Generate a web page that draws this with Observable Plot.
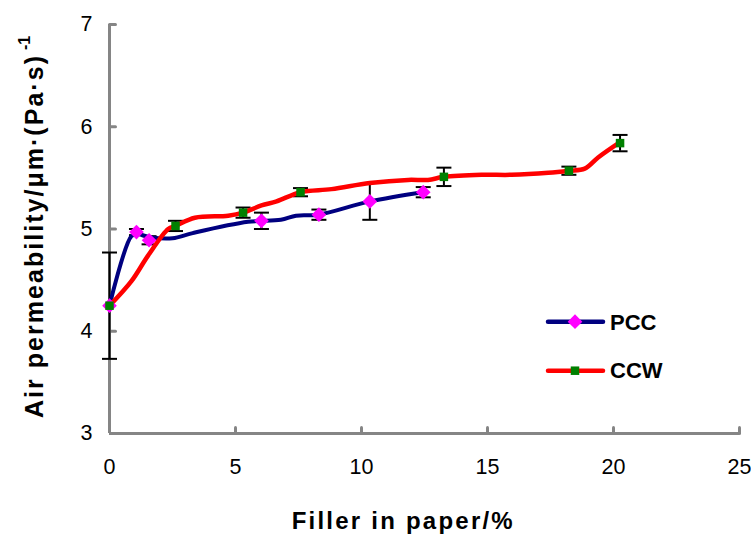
<!DOCTYPE html>
<html><head><meta charset="utf-8">
<script src="https://cdn.jsdelivr.net/npm/d3@7"></script>
<script src="https://cdn.jsdelivr.net/npm/@observablehq/plot@0.6"></script>
<style>body{margin:0;background:#fff;} svg{display:block;}</style>
</head><body><div id="chart"></div>
<script>
// Marker data (filler %, air permeability, error)
const pccX = [0, 1.07, 1.57, 6.03, 8.31, 10.33, 12.45];
const pccY = [4.25, 4.97, 4.89, 5.08, 5.14, 5.27, 5.36];
const pccErr = [0.52, 0.03, 0.04, 0.08, 0.05, 0.18, 0.05];
const ccwX = [0, 2.62, 5.30, 7.58, 13.27, 18.23, 20.26];
const ccwY = [4.25, 5.03, 5.16, 5.36, 5.51, 5.57, 5.84];
const ccwErr = [0, 0.05, 0.05, 0.04, 0.09, 0.04, 0.08];
// Smoothed line traces
const pccLineX = [0, 0.87, 1.1, 1.6, 2.5, 3.3, 5.5, 6.8, 7.4, 8.3, 10.33, 12.45];
const pccLineY = [4.25, 4.93, 4.95, 4.92, 4.91, 4.96, 5.07, 5.09, 5.13, 5.14, 5.27, 5.36];
const ccwLineX = [0, 0.87, 1.53, 2.33, 2.62, 3.39, 4.71, 5.3, 6.03, 6.63, 7.58, 8.81, 10.33, 11.85, 12.64, 13.27, 14.76, 15.95, 17.41, 18.23, 18.86, 19.39, 20.26];
const ccwLineY = [4.25, 4.49, 4.74, 5.00, 5.03, 5.11, 5.13, 5.16, 5.23, 5.27, 5.36, 5.39, 5.45, 5.48, 5.48, 5.51, 5.53, 5.53, 5.55, 5.57, 5.59, 5.70, 5.85];
// Axis ticks and text
const xTicks = [0, 5, 10, 15, 20, 25];
const yTicks = [3, 4, 5, 6, 7];
const seriesNames = ["PCC", "CCW"];
const xTitle = "Filler in paper/%";
const yTitle = "Air permeability/μm·(Pa·s)";
const yTitleSup = "-1";

const pcc = pccX.map((x, i) => ({x, y: pccY[i], e: pccErr[i]}));
const ccw = ccwX.map((x, i) => ({x, y: ccwY[i], e: ccwErr[i]}));
const pccLine = pccLineX.map((x, i) => ({x, y: pccLineY[i]}));
const ccwLine = ccwLineX.map((x, i) => ({x, y: ccwLineY[i]}));
const errs = [...pcc, ...ccw].filter(d => d.e > 0).map(d => ({x: d.x, lo: d.y - d.e, hi: d.y + d.e}));
const caps = errs.flatMap(d => [{x: d.x, y: d.lo}, {x: d.x, y: d.hi}]);
const capSymbol = {draw(ctx) { ctx.moveTo(-7.5, 0); ctx.lineTo(7.5, 0); }};
const upTick = {draw(ctx) { ctx.moveTo(0, 0); ctx.lineTo(0, -6); }};
const rightTick = {draw(ctx) { ctx.moveTo(0, 0); ctx.lineTo(6, 0); }};

const gray = "#858585";
const plot = Plot.plot({
  width: 751, height: 535,
  marginLeft: 109, marginRight: 12, marginTop: 24, marginBottom: 102,
  x: {domain: [0, 25]},
  y: {domain: [3, 7]},
  style: {fontFamily: "'Liberation Sans', Arial, sans-serif", background: "white", color: "black"},
  marks: [
    Plot.axisX({ticks: xTicks, tickSize: 0, tickPadding: 25, fontSize: 21.5, label: null, tickFormat: d => String(d)}),
    Plot.axisY({ticks: yTicks, tickSize: 0, tickPadding: 17, fontSize: 21.5, label: null, tickFormat: d => String(d)}),
    Plot.dot(xTicks.slice(1), {x: d => d, y: () => yTicks[0], symbol: upTick, stroke: gray, strokeWidth: 3, strokeLinecap: "round"}),
    Plot.dot(yTicks.slice(1), {x: () => xTicks[0], y: d => d, symbol: rightTick, stroke: gray, strokeWidth: 3, strokeLinecap: "round"}),
    Plot.ruleX([0], {stroke: gray, strokeWidth: 3}),
    Plot.ruleY([3], {stroke: gray, strokeWidth: 3}),
    Plot.ruleX(errs, {x: "x", y1: "lo", y2: "hi", stroke: "black", strokeWidth: 2}),
    Plot.dot(caps, {x: "x", y: "y", symbol: capSymbol, stroke: "black", strokeWidth: 2}),
    Plot.line(pccLine, {x: "x", y: "y", stroke: "#000080", strokeWidth: 4, curve: "catmull-rom"}),
    Plot.line(ccwLine, {x: "x", y: "y", stroke: "#ff0000", strokeWidth: 4.5, curve: "catmull-rom"}),
    Plot.dot(pcc, {x: "x", y: "y", symbol: "diamond2", r: 6.6, fill: "#ff00ff", stroke: "none"}),
    Plot.dot(ccw, {x: "x", y: "y", symbol: "square", r: 4.8, fill: "#008000", stroke: "none"})
  ]
});
document.getElementById("chart").appendChild(plot);

const svg = d3.select(plot);
svg.append("text").attr("x", 291.7).attr("y", 529).attr("text-anchor", "start")
  .attr("font-size", 24).attr("font-weight", "bold")
  .attr("textLength", 221).attr("lengthAdjust", "spacing").text(xTitle);
svg.append("text").attr("transform", "translate(43,418) rotate(-90)").attr("text-anchor", "start")
  .attr("font-size", 25).attr("font-weight", "bold")
  .attr("textLength", 362).attr("lengthAdjust", "spacing").text(yTitle);
svg.append("text").attr("transform", "translate(30,50) rotate(-90)").attr("text-anchor", "start")
  .attr("font-size", 16).attr("font-weight", "bold").text(yTitleSup);

// Legend
const leg = [
  {name: seriesNames[0], y: 321.7, stroke: "#000080", fill: "#ff00ff", sym: d3.symbolDiamond2, size: Math.PI * 6.6 * 6.6, ty: 329.5},
  {name: seriesNames[1], y: 370.7, stroke: "#ff0000", fill: "#008000", sym: d3.symbolSquare, size: Math.PI * 4.8 * 4.8, ty: 377.5}
];
leg.forEach(l => {
  svg.append("line").attr("x1", 548).attr("x2", 603).attr("y1", l.y).attr("y2", l.y)
    .attr("stroke", l.stroke).attr("stroke-width", 4.5).attr("stroke-linecap", "round");
  svg.append("path").attr("d", d3.symbol(l.sym, l.size)()).attr("transform", `translate(575,${l.y})`).attr("fill", l.fill);
  svg.append("text").attr("x", 610).attr("y", l.ty).attr("text-anchor", "start")
    .attr("font-size", 22).attr("font-weight", "bold").text(l.name);
});
</script>
</body></html>
